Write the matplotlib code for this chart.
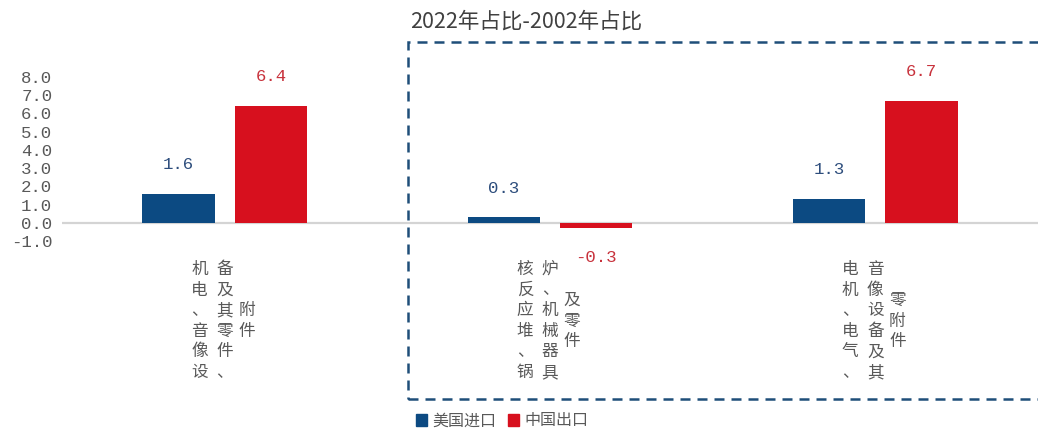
import numpy as np
import matplotlib
matplotlib.use('Agg')
import matplotlib.pyplot as plt
from matplotlib.patches import Patch, Rectangle
from matplotlib.transforms import blended_transform_factory

plt.rcParams['font.family'] = ['Noto Sans CJK SC', 'DejaVu Sans']

# each category label is stacked vertical text, split into columns
category_cols = [
    ['机电、音像设', '备及其零件、', '附件'],
    ['核反应堆、锅', '炉、机械器具', '及零件'],
    ['电机、电气、', '音像设备及其', '零附件'],
]
us_import = [1.6, 0.3, 1.3]
cn_export = [6.4, -0.3, 6.7]
series_names = ['美国进口', '中国出口']
y_ticks = [-1.0, 0.0, 1.0, 2.0, 3.0, 4.0, 5.0, 6.0, 7.0, 8.0]
title = '2022年占比-2002年占比'

blue = '#0c4a82'
red = '#d7101e'
gray_txt = '#595959'
num_font = 'Liberation Mono'

fig = plt.figure(figsize=(10.38, 4.32), dpi=100)
ax = fig.add_axes([62 / 1038, 1 - 241 / 432, (1038 - 62) / 1038, (241 - 77) / 432])

x = np.arange(len(category_cols))
w = 0.2215
off = 0.142
b1 = ax.bar(x - off, us_import, w, color=blue, zorder=3)
b2 = ax.bar(x + off, cn_export, w, color=red, zorder=3)

ax.set_xlim(-0.5, 2.5)
ax.set_ylim(-1, 8)
ax.axhline(0, color='#d4d4d4', lw=1.6, zorder=2)
for s in ax.spines.values():
    s.set_visible(False)
ax.set_xticks([])
ax.set_yticks(y_ticks)
ax.set_yticklabels(['%.1f' % v for v in y_ticks], fontfamily=num_font,
                   fontsize=12.5, color=gray_txt)
ax.tick_params(axis='y', length=0, pad=7)

# value labels above / below each bar
for bars, vals, col in [(b1, us_import, '#2d4d7c'), (b2, cn_export, '#c8323c')]:
    for r, v in zip(bars, vals):
        cx = r.get_x() + r.get_width() / 2
        dy = 21 if v >= 0 else -21
        ax.annotate('%.1f' % v, (cx, v), xytext=(0, dy), textcoords='offset points',
                    ha='center', va='center', fontfamily=num_font, fontsize=12.5,
                    color=col)

# vertical category labels
trans = blended_transform_factory(ax.transData, fig.transFigure)
col_offsets = [-25, 0, 22]
for i, cols in enumerate(category_cols):
    for j, c in enumerate(cols):
        ax.text(i + col_offsets[j] / 325, 1 - 321 / 432, '\n'.join(c),
                transform=trans, ha='center', va='center', fontsize=12,
                linespacing=1.28, color=gray_txt, clip_on=False)

fig.text(410 / 1038, 1 - 22 / 432, title, ha='left', va='center',
         fontsize=15.5, color='#404040')

# dashed frame around the last two groups
frame = Rectangle((408 / 1038, 1 - 399 / 432), 0.7, (399 - 42) / 432,
                  transform=fig.transFigure, fill=False, edgecolor='#1f4e79',
                  lw=1.8, linestyle=(0, (4, 2.8)), clip_on=False)
fig.patches.append(frame)

handles = [Patch(color=blue), Patch(color=red)]
leg = fig.legend(handles, series_names, loc='center', ncol=2,
                 bbox_to_anchor=(502 / 1038, 1 - 421 / 432), frameon=False,
                 fontsize=11.5, handlelength=0.7, handleheight=0.7,
                 handletextpad=0.35, columnspacing=0.7, borderpad=0)
for t in leg.get_texts():
    t.set_color(gray_txt)

fig.savefig('out.png', dpi=100)
